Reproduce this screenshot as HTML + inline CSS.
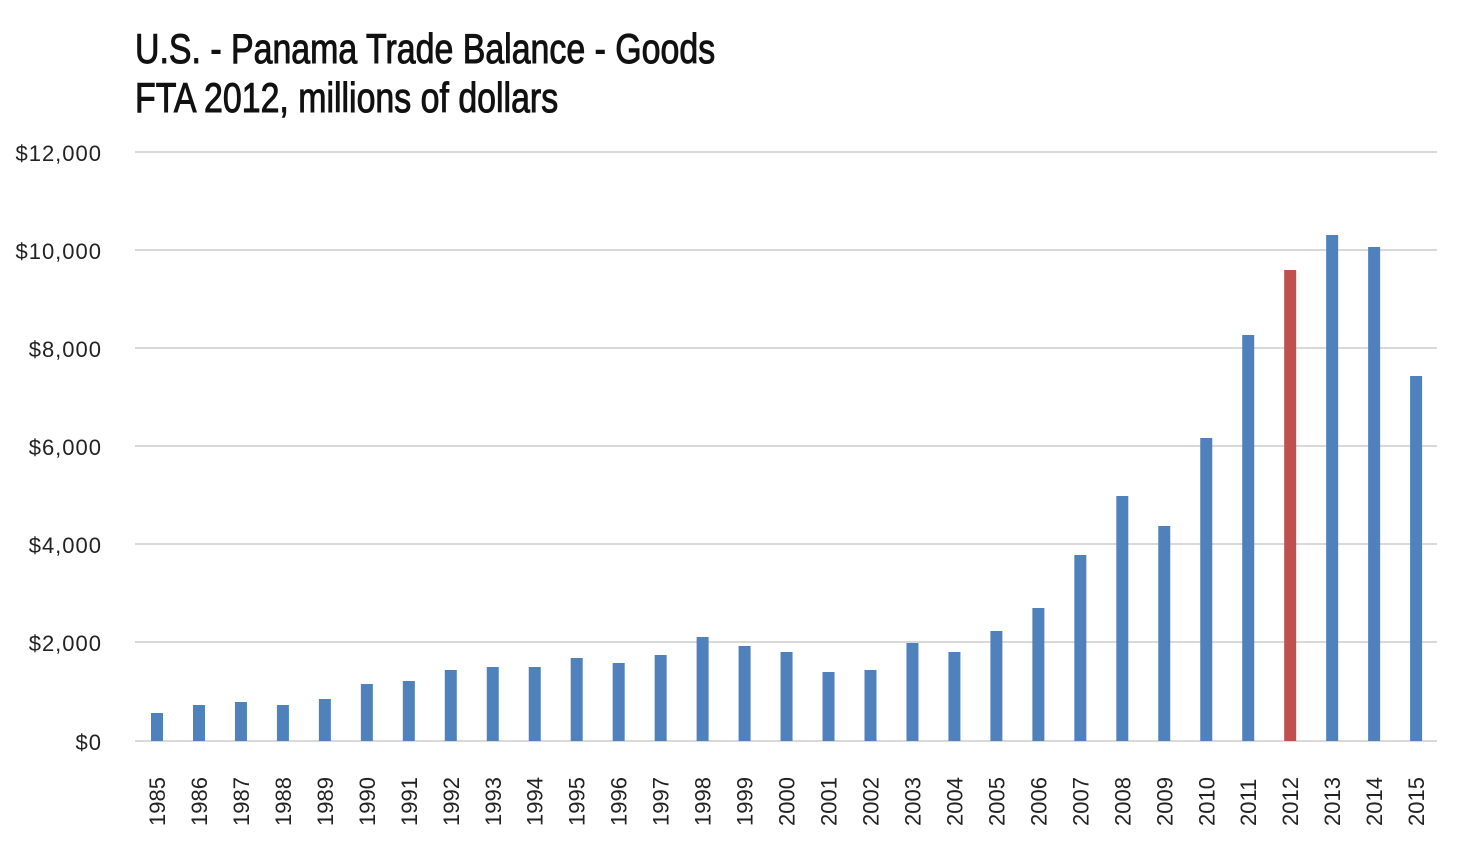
<!DOCTYPE html>
<html><head><style>
html,body{margin:0;padding:0;background:#fff;width:1480px;height:845px;overflow:hidden}
</style></head><body>
<svg width="1480" height="845" xmlns="http://www.w3.org/2000/svg" font-family="Liberation Sans, sans-serif">
<g font-family="Liberation Sans Narrow, Liberation Sans, sans-serif" font-size="42" fill="#111" stroke="#111" stroke-width="1.0">
<text x="135" y="63" transform="translate(135 0) scale(0.807 1) translate(-135 0)">U.S. - Panama Trade Balance - Goods</text>
<text x="135" y="112" transform="translate(135 0) scale(0.807 1) translate(-135 0)">FTA 2012, millions of dollars</text>
</g>
<g stroke="#d9d9d9" stroke-width="2">
<line x1="135" x2="1437" y1="152" y2="152"/><line x1="135" x2="1437" y1="250" y2="250"/>
<line x1="135" x2="1437" y1="348" y2="348"/><line x1="135" x2="1437" y1="446" y2="446"/>
<line x1="135" x2="1437" y1="544" y2="544"/><line x1="135" x2="1437" y1="642" y2="642"/>
<line x1="135" x2="1437" y1="741" y2="741"/>
</g>
<g font-size="22" fill="#222" text-anchor="end" letter-spacing="1">
<text x="102" y="161">$12,000</text><text x="102" y="259">$10,000</text><text x="102" y="357">$8,000</text>
<text x="102" y="455">$6,000</text><text x="102" y="553">$4,000</text><text x="102" y="651">$2,000</text>
<text x="102" y="750">$0</text>
</g>
<g id="bars"></g>
<g id="labels" font-size="22" fill="#222"></g>
</svg>
<script>
var tops=[713,705,702,705,699,684,681,670,667,667,658,663,655,637,646,652,672,670,643,652,631,608,555,496,526,438,335,270,235,247,376];
var b=document.getElementById('bars'),l=document.getElementById('labels'),ns='http://www.w3.org/2000/svg';
for(var i=0;i<31;i++){var cx=157+i*41.97;
var r=document.createElementNS(ns,'rect');r.setAttribute('x',cx-6);r.setAttribute('y',tops[i]);r.setAttribute('width',12);r.setAttribute('height',741-tops[i]);r.setAttribute('fill',i==27?'#c0504d':'#4f81bd');b.appendChild(r);
var t=document.createElementNS(ns,'text');t.setAttribute('transform','translate('+(cx+8)+' 826) rotate(-90)');t.textContent=1985+i;l.appendChild(t);}
</script>
</body></html>
